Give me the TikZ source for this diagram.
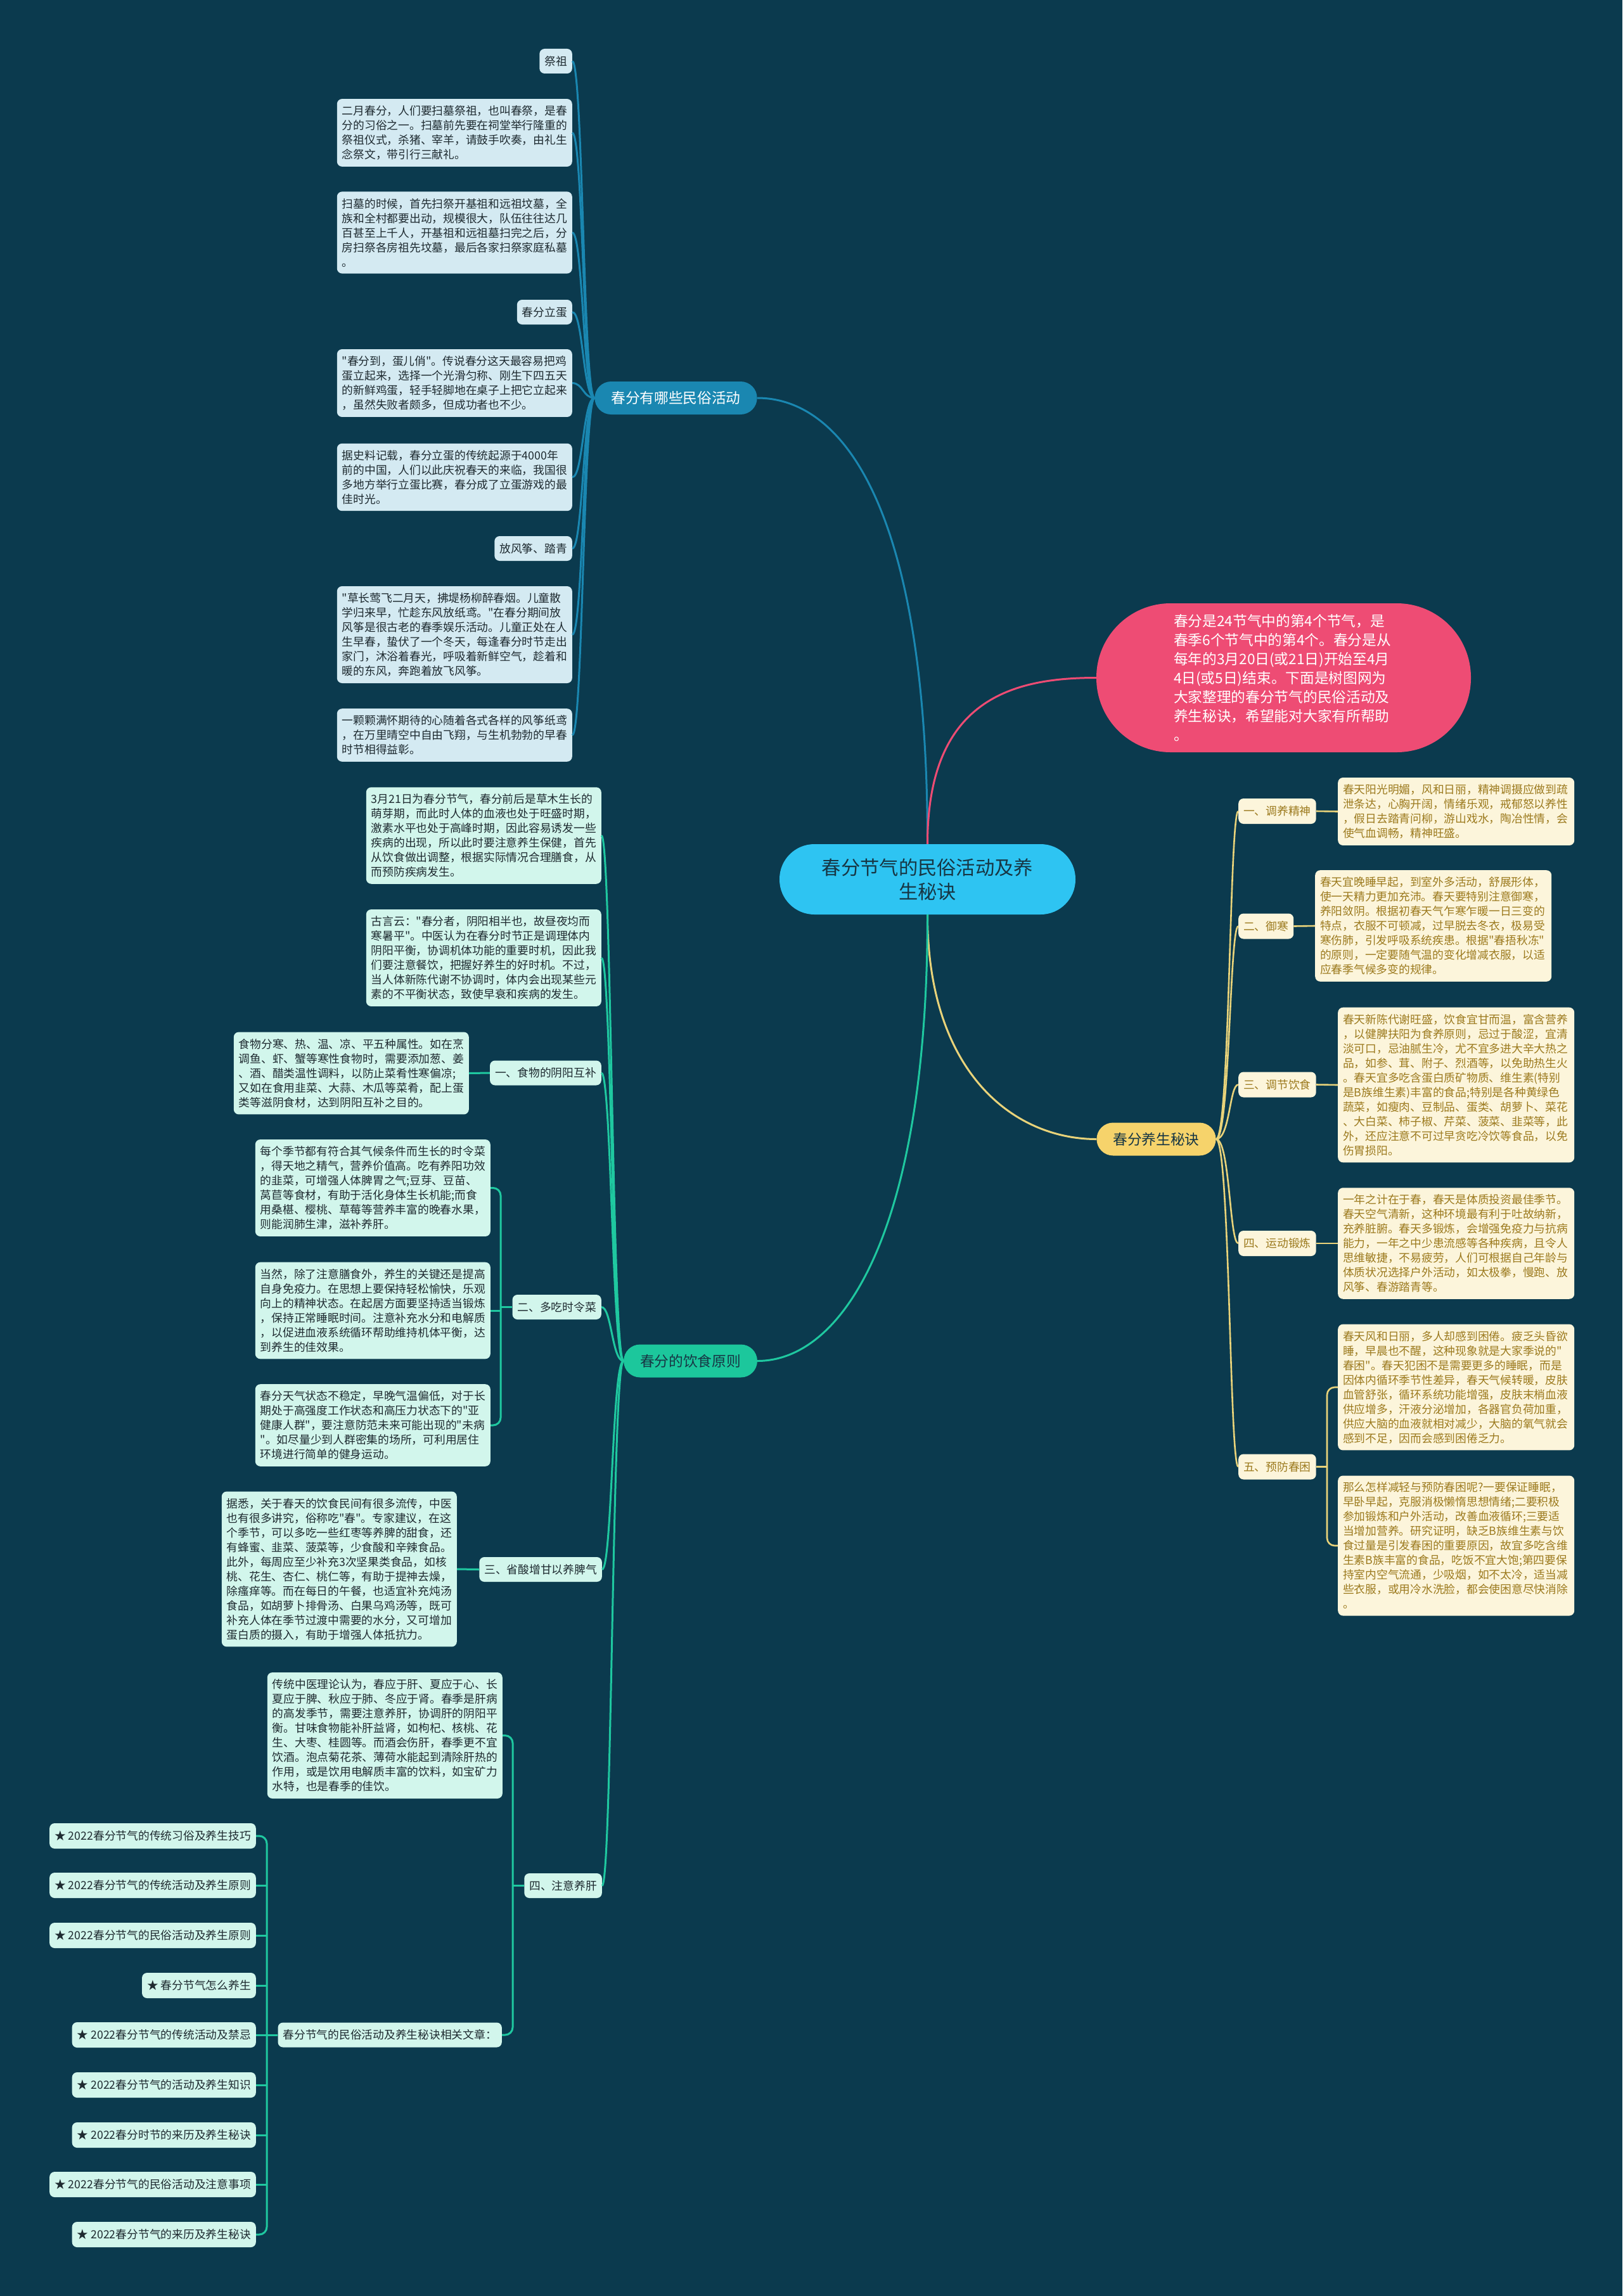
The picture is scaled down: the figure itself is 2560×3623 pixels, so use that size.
\documentclass[tikz,border=0pt]{standalone}
\usepackage{fontspec}
\setmainfont{Noto Sans CJK SC}
\newfontfamily\cjkfont{Noto Sans CJK SC}
\usetikzlibrary{calc}
\definecolor{bg}{HTML}{0B3A4E}
\definecolor{bcol}{HTML}{1A87B1}
\definecolor{bleaffill}{HTML}{D4EAF2}
\definecolor{leaftext}{HTML}{1E2A30}
\definecolor{gcol}{HTML}{1FC8A0}
\definecolor{gbranchfill}{HTML}{1CC79C}
\definecolor{gleaffill}{HTML}{D2F6EC}
\definecolor{ycol}{HTML}{E9D37A}
\definecolor{ybranchfill}{HTML}{F6D36B}
\definecolor{yleaffill}{HTML}{FCF5DB}
\definecolor{yleaftext}{HTML}{9C7A1E}
\definecolor{pinkcol}{HTML}{EE4C74}
\definecolor{centerfill}{HTML}{2EC4F2}
\definecolor{centertext}{HTML}{173644}
\newcommand\fleaf{\cjkfont\fontsize{17.75}{23}\selectfont}
\newcommand\fbranchtxt{\cjkfont\fontsize{22.7}{28}\selectfont}
\newcommand\fcentertxt{\cjkfont\fontsize{30.3}{38}\selectfont}
\newcommand\fpinktxt{\cjkfont\fontsize{22.7}{30}\selectfont}
\tikzset{
  leafbase/.style={rectangle, rounded corners=8, inner xsep=8, inner ysep=10.5, font=\fleaf, align=left},
  bleaf/.style={leafbase, fill=bleaffill, text=leaftext, text width=355},
  blabel/.style={leafbase, fill=bleaffill, text=leaftext, minimum height=39},
  gleaf/.style={leafbase, fill=gleaffill, text=leaftext, text width=355},
  glabel/.style={leafbase, fill=gleaffill, text=leaftext, minimum height=39},
  starnode/.style={leafbase, fill=gleaffill, text=leaftext, minimum height=40},
  yleaf/.style={leafbase, fill=yleaffill, text=yleaftext, text width=357},
  ylabel/.style={leafbase, fill=yleaffill, text=yleaftext, minimum height=40},
  branchbase/.style={rectangle, rounded corners=26, minimum height=52, inner xsep=26, inner ysep=4, font=\fbranchtxt},
  bbranch/.style={branchbase, fill=bcol, text=white},
  gbranch/.style={branchbase, fill=gbranchfill, text=centertext},
  ybranch/.style={branchbase, fill=ybranchfill, text=centertext},
  centernode/.style={rectangle, rounded corners=55, minimum width=467, minimum height=111, fill=centerfill, text=centertext, font=\fcentertxt, align=center},
  pinknode/.style={rectangle, rounded corners=117, minimum width=591, minimum height=235, inner xsep=122, fill=pinkcol, text=white, font=\fpinktxt, align=left, text width=347},
  bline/.style={draw=bcol, line width=3},
  gline/.style={draw=gcol, line width=3},
  yline/.style={draw=ycol, line width=2.6},
  pline/.style={draw=pinkcol, line width=3},
}
\begin{document}
\begin{tikzpicture}[x=1pt,y=-1pt]
\useasboundingbox (0,0) rectangle (2560,3623);
\fill[bg] (0,0) rectangle (2560,3623);

% main nodes
\node[centernode] (c) at (1463.5,1387.5) {春分节气的民俗活动及养\\生秘诀};
\node[pinknode] (p) at (2025.5,1069.5) {春分是24节气中的第4个节气，是\\春季6个节气中的第4个。春分是从\\每年的3月20日(或21日)开始至4月\\4日(或5日)结束。下面是树图网为\\大家整理的春分节气的民俗活动及\\养生秘诀，希望能对大家有所帮助\\。};
\node[bbranch] (b1) at (1066.5,628) {春分有哪些民俗活动};
\node[gbranch] (gb) at (1089.5,2147.5) {春分的饮食原则};
\node[ybranch] (yb) at (1824.5,1797.5) {春分养生秘诀};

% branch 1 leaves
\node[blabel, anchor=east] (l1) at (903,96.5) {祭祖};
\node[bleaf, anchor=east] (l2) at (903,209.5) {二月春分，人们要扫墓祭祖，也叫春祭，是春\\分的习俗之一。扫墓前先要在祠堂举行隆重的\\祭祖仪式，杀猪、宰羊，请鼓手吹奏，由礼生\\念祭文，带引行三献礼。};
\node[bleaf, anchor=east] (l3) at (903,367) {扫墓的时候，首先扫祭开基祖和远祖坟墓，全\\族和全村都要出动，规模很大，队伍往往达几\\百甚至上千人，开基祖和远祖墓扫完之后，分\\房扫祭各房祖先坟墓，最后各家扫祭家庭私墓\\。};
\node[blabel, anchor=east] (l4) at (903,492.5) {春分立蛋};
\node[bleaf, anchor=east] (l5) at (903,604.5) {"春分到，蛋儿俏"。传说春分这天最容易把鸡\\蛋立起来，选择一个光滑匀称、刚生下四五天\\的新鲜鸡蛋，轻手轻脚地在桌子上把它立起来\\，虽然失败者颇多，但成功者也不少。};
\node[bleaf, anchor=east] (l6) at (903,753) {据史料记载，春分立蛋的传统起源于4000年\\前的中国，人们以此庆祝春天的来临，我国很\\多地方举行立蛋比赛，春分成了立蛋游戏的最\\佳时光。};
\node[blabel, anchor=east] (l7) at (903,865.5) {放风筝、踏青};
\node[bleaf, anchor=east] (l8) at (903,1001.5) {"草长莺飞二月天，拂堤杨柳醉春烟。儿童散\\学归来早，忙趁东风放纸鸢。"在春分期间放\\风筝是很古老的春季娱乐活动。儿童正处在人\\生早春，蛰伏了一个冬天，每逢春分时节走出\\家门，沐浴着春光，呼吸着新鲜空气，趁着和\\暖的东风，奔跑着放飞风筝。};
\node[bleaf, anchor=east] (l9) at (903,1160) {一颗颗满怀期待的心随着各式各样的风筝纸鸢\\，在万里晴空中自由飞翔，与生机勃勃的早春\\时节相得益彰。};

% green branch
\node[gleaf, anchor=east] (g1) at (949,1318.5) {3月21日为春分节气，春分前后是草木生长的\\萌芽期，而此时人体的血液也处于旺盛时期，\\激素水平也处于高峰时期，因此容易诱发一些\\疾病的出现，所以此时要注意养生保健，首先\\从饮食做出调整，根据实际情况合理膳食，从\\而预防疾病发生。};
\node[gleaf, anchor=east] (g2) at (949,1511.5) {古言云："春分者，阴阳相半也，故昼夜均而\\寒暑平"。中医认为在春分时节正是调理体内\\阴阳平衡，协调机体功能的重要时机，因此我\\们要注意餐饮，把握好养生的好时机。不过，\\当人体新陈代谢不协调时，体内会出现某些元\\素的不平衡状态，致使早衰和疾病的发生。};
\node[glabel, anchor=east] (gs1) at (949,1693) {一、食物的阴阳互补};
\node[gleaf, anchor=east] (g3) at (740,1693.5) {食物分寒、热、温、凉、平五种属性。如在烹\\调鱼、虾、蟹等寒性食物时，需要添加葱、姜\\、酒、醋类温性调料，以防止菜肴性寒偏凉;\\又如在食用韭菜、大蒜、木瓜等菜肴，配上蛋\\类等滋阴食材，达到阴阳互补之目的。};
\node[glabel, anchor=east] (gs2) at (949,2062.5) {二、多吃时令菜};
\node[gleaf, anchor=east] (g4) at (774,1874.5) {每个季节都有符合其气候条件而生长的时令菜\\，得天地之精气，营养价值高。吃有养阳功效\\的韭菜，可增强人体脾胃之气;豆芽、豆苗、\\莴苣等食材，有助于活化身体生长机能;而食\\用桑椹、樱桃、草莓等营养丰富的晚春水果，\\则能润肺生津，滋补养肝。};
\node[gleaf, anchor=east] (g5) at (774,2068) {当然，除了注意膳食外，养生的关键还是提高\\自身免疫力。在思想上要保持轻松愉快，乐观\\向上的精神状态。在起居方面要坚持适当锻炼\\，保持正常睡眠时间。注意补充水分和电解质\\，以促进血液系统循环帮助维持机体平衡，达\\到养生的佳效果。};
\node[gleaf, anchor=east] (g6) at (774,2249) {春分天气状态不稳定，早晚气温偏低，对于长\\期处于高强度工作状态和高压力状态下的"亚\\健康人群"，要注意防范未来可能出现的"未病\\"。如尽量少到人群密集的场所，可利用居住\\环境进行简单的健身运动。};
\node[glabel, anchor=east] (gs3) at (950,2476.5) {三、省酸增甘以养脾气};
\node[gleaf, anchor=east] (g7) at (721,2476) {据悉，关于春天的饮食民间有很多流传，中医\\也有很多讲究，俗称吃"春"。专家建议，在这\\个季节，可以多吃一些红枣等养脾的甜食，还\\有蜂蜜、韭菜、菠菜等，少食酸和辛辣食品。\\此外，每周应至少补充3次坚果类食品，如核\\桃、花生、杏仁、桃仁等，有助于提神去燥，\\除瘙痒等。而在每日的午餐，也适宜补充炖汤\\食品，如胡萝卜排骨汤、白果乌鸡汤等，既可\\补充人体在季节过渡中需要的水分，又可增加\\蛋白质的摄入，有助于增强人体抵抗力。};
\node[glabel, anchor=east] (gs4) at (950,2975.5) {四、注意养肝};
\node[gleaf, anchor=east] (g8) at (793,2738.5) {传统中医理论认为，春应于肝、夏应于心、长\\夏应于脾、秋应于肺、冬应于肾。春季是肝病\\的高发季节，需要注意养肝，协调肝的阴阳平\\衡。甘味食物能补肝益肾，如枸杞、核桃、花\\生、大枣、桂圆等。而酒会伤肝，春季更不宜\\饮酒。泡点菊花茶、薄荷水能起到清除肝热的\\作用，或是饮用电解质丰富的饮料，如宝矿力\\水特，也是春季的佳饮。};
\node[glabel, anchor=east] (g9) at (792,3211) {春分节气的民俗活动及养生秘诀相关文章：};
\node[starnode, anchor=east] (s1) at (404,2897) {★ 2022春分节气的传统习俗及养生技巧};
\node[starnode, anchor=east] (s2) at (404,2975) {★ 2022春分节气的传统活动及养生原则};
\node[starnode, anchor=east] (s3) at (404,3054) {★ 2022春分节气的民俗活动及养生原则};
\node[starnode, anchor=east] (s4) at (404,3133) {★ 春分节气怎么养生};
\node[starnode, anchor=east] (s5) at (404,3211) {★ 2022春分节气的传统活动及禁忌};
\node[starnode, anchor=east] (s6) at (404,3290) {★ 2022春分节气的活动及养生知识};
\node[starnode, anchor=east] (s7) at (404,3369) {★ 2022春分时节的来历及养生秘诀};
\node[starnode, anchor=east] (s8) at (404,3447) {★ 2022春分节气的民俗活动及注意事项};
\node[starnode, anchor=east] (s9) at (404,3526) {★ 2022春分节气的来历及养生秘诀};

% yellow branch
\node[ylabel, anchor=west] (ys1) at (1954,1280) {一、调养精神};
\node[yleaf, anchor=west] (r1) at (2111,1280.5) {春天阳光明媚，风和日丽，精神调摄应做到疏\\泄条达，心胸开阔，情绪乐观，戒郁怒以养性\\，假日去踏青问柳，游山戏水，陶冶性情，会\\使气血调畅，精神旺盛。};
\node[ylabel, anchor=west] (ys2) at (1954,1461.5) {二、御寒};
\node[yleaf, anchor=west] (r2) at (2075,1461) {春天宜晚睡早起，到室外多活动，舒展形体，\\使一天精力更加充沛。春天要特别注意御寒，\\养阳敛阴。根据初春天气乍寒乍暖一日三变的\\特点，衣服不可顿减，过早脱去冬衣，极易受\\寒伤肺，引发呼吸系统疾患。根据"春捂秋冻"\\的原则，一定要随气温的变化增减衣服，以适\\应春季气候多变的规律。};
\node[ylabel, anchor=west] (ys3) at (1954,1711.5) {三、调节饮食};
\node[yleaf, anchor=west] (r3) at (2111,1712) {春天新陈代谢旺盛，饮食宜甘而温，富含营养\\，以健脾扶阳为食养原则，忌过于酸涩，宜清\\淡可口，忌油腻生冷，尤不宜多进大辛大热之\\品，如参、茸、附子、烈酒等，以免助热生火\\。春天宜多吃含蛋白质矿物质、维生素(特别\\是B族维生素)丰富的食品;特别是各种黄绿色\\蔬菜，如瘦肉、豆制品、蛋类、胡萝卜、菜花\\、大白菜、柿子椒、芹菜、菠菜、韭菜等，此\\外，还应注意不可过早贪吃冷饮等食品，以免\\伤胃损阳。};
\node[ylabel, anchor=west] (ys4) at (1954,1962) {四、运动锻炼};
\node[yleaf, anchor=west] (r4) at (2111,1962) {一年之计在于春，春天是体质投资最佳季节。\\春天空气清新，这种环境最有利于吐故纳新，\\充养脏腑。春天多锻炼，会增强免疫力与抗病\\能力，一年之中少患流感等各种疾病，且令人\\思维敏捷，不易疲劳，人们可根据自己年龄与\\体质状况选择户外活动，如太极拳，慢跑、放\\风筝、春游踏青等。};
\node[ylabel, anchor=west] (ys5) at (1954,2314.5) {五、预防春困};
\node[yleaf, anchor=west] (r5a) at (2111,2189) {春天风和日丽，多人却感到困倦。疲乏头昏欲\\睡，早晨也不醒，这种现象就是大家季说的"\\春困"。春天犯困不是需要更多的睡眠，而是\\因体内循环季节性差异，春天气候转暖，皮肤\\血管舒张，循环系统功能增强，皮肤末梢血液\\供应增多，汗液分泌增加，各器官负荷加重，\\供应大脑的血液就相对减少，大脑的氧气就会\\感到不足，因而会感到困倦乏力。};
\node[yleaf, anchor=west] (r5b) at (2111,2439) {那么怎样减轻与预防春困呢?一要保证睡眠，\\早卧早起，克服消极懒惰思想情绪;二要积极\\参加锻炼和户外活动，改善血液循环;三要适\\当增加营养。研究证明，缺乏B族维生素与饮\\食过量是引发春困的重要原因，故宜多吃含维\\生素B族丰富的食品，吃饭不宜大饱;第四要保\\持室内空气流通，少吸烟，如不太冷，适当减\\些衣服，或用冷水洗脸，都会使困意尽快消除\\。};

% main connectors
\draw[bline] (c.north) .. controls +(0,-530) and +(135,0) .. (b1.east);
\draw[pline] (c.north) .. controls +(0,-230) and +(-130,0) .. (p.west);
\draw[yline, line width=3] (c.south) .. controls +(0,250) and +(-130,0) .. (yb.west);
\draw[gline] (c.south) .. controls +(0,500) and +(135,0) .. (gb.east);

% branch 1 connectors
\foreach \n in {l1,l2,l3,l4,l5,l6,l7,l8,l9}
  \draw[bline] (b1.west) .. controls +(-18,0) and +(17,0) .. (\n.east);

% green connectors
\foreach \n in {g1,g2,gs1,gs2,gs3,gs4}
  \draw[gline] (gb.west) .. controls +(-18,0) and +(16,0) .. (\n.east);
\draw[gline] (gs1.west) -- (g3.east);
\draw[gline] (gs3.west) -- (g7.east);
\coordinate (br2) at ($(g4.east)+(16,0)$);
\draw[gline, rounded corners=12] (g4.east) -- (br2) |- (g6.east);
\draw[gline] (gs2.west) -- (gs2.west -| br2);
\draw[gline] (g5.east) -- (g5.east -| br2);
\coordinate (br4) at ($(g8.east)+(16,0)$);
\draw[gline, rounded corners=12] (g8.east) -- (br4) |- (g9.east);
\draw[gline] (gs4.west) -- (gs4.west -| br4);
\coordinate (brs) at ($(s1.east)+(17,0)$);
\draw[gline, rounded corners=12] (s1.east) -- (brs) |- (s9.east);
\foreach \n in {s2,s3,s4,s5,s6,s7,s8}
  \draw[gline] (\n.east) -- (\n.east -| brs);
\draw[gline] (g9.west) -- (g9.west -| brs);

% yellow connectors
\foreach \n in {ys1,ys2,ys3,ys4,ys5}
  \draw[yline] (yb.east) .. controls +(22,0) and +(-14,0) .. (\n.west);
\draw[yline] (ys1.east) -- (r1.west);
\draw[yline] (ys2.east) -- (r2.west);
\draw[yline] (ys3.east) -- (r3.west);
\draw[yline] (ys4.east) -- (r4.west);
\coordinate (br5) at ($(r5a.west)+(-17,0)$);
\draw[yline, rounded corners=12] (r5a.west) -- (br5) |- (r5b.west);
\draw[yline] (ys5.east) -- (ys5.east -| br5);
\end{tikzpicture}
\end{document}
